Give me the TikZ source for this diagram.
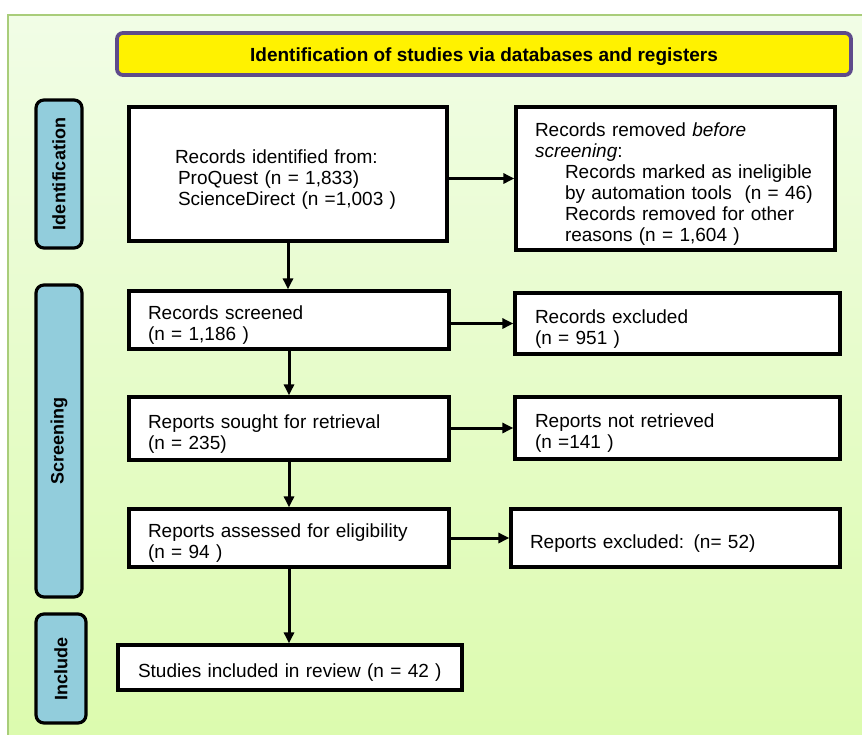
\documentclass[tikz,border=0pt]{standalone}
\usepackage{fontspec}
\setsansfont{Liberation Sans}
\usetikzlibrary{arrows.meta,positioning,calc}
\definecolor{framegreen}{HTML}{A9CD7A}
\definecolor{bgtop}{HTML}{F1FDE6}
\definecolor{bgbottom}{HTML}{DCFBAE}
\definecolor{titlepurple}{HTML}{5E4B8B}
\definecolor{phaseblue}{HTML}{92CDDC}
\begin{document}
\begin{tikzpicture}[x=1pt,y=-1pt]
\tikzset{
  flowbox/.style={rectangle,draw,line width=3.2pt,fill=white,align=left,font=\sffamily\fontsize{19}{21}\selectfont,inner ysep=2pt,execute at begin node={\rule{0pt}{24pt}}},
  phasebox/.style={rectangle,draw,line width=3.2pt,fill=phaseblue,rounded corners=8pt,rotate=90,font=\sffamily\bfseries\fontsize{18}{20}\selectfont},
  titlebox/.style={rectangle,draw=titlepurple,line width=3.8pt,fill=yellow,rounded corners=6pt,font=\sffamily\bfseries\fontsize{19}{21}\selectfont},
  flowarrow/.style={-{Triangle[length=11pt,width=10pt]},line width=3pt}
}
\useasboundingbox (0,0) rectangle (862,734);
% background
\shade[top color=bgtop,bottom color=bgbottom] (8,15) rectangle (866,738);
\draw[framegreen,line width=2pt] (8,740) -- (8,15) -- (866,15);
% title and phases
\node[titlebox,minimum width=734pt,minimum height=42pt] (n_title) at (484,54) {\rule{0pt}{20pt}Identification of studies via databases and registers};
\node[phasebox,minimum width=148pt,minimum height=46pt] (n_phaseid) at (59,174) {Identification};
\node[phasebox,minimum width=312pt,minimum height=46pt] (n_phasescr) at (59,441) {Screening};
\node[phasebox,minimum width=109pt,minimum height=50pt] (n_phaseinc) at (61,668.5) {Include};
% left column
\node[flowbox,minimum height=134pt,text width=226pt,inner xsep=46pt] (n_ident) at (288,174)
  {Records identified from:\\ \hspace*{3pt}ProQuest (n = 1,833)\\ \hspace*{3pt}ScienceDirect (n =1,003 )};
\node[flowbox,minimum height=58pt,text width=282pt,inner xsep=19pt] (n_screened) at (289,320)
  {Records screened\\ (n = 1,186 )};
\node[flowbox,minimum height=63pt,text width=282pt,inner xsep=19pt] (n_sought) at (289,428.5)
  {Reports sought for retrieval\\ (n = 235)};
\node[flowbox,minimum height=58pt,text width=282pt,inner xsep=19pt] (n_assessed) at (289,538)
  {Reports assessed for eligibility\\ (n = 94 )};
\node[flowbox,minimum height=45pt,text width=304pt,inner xsep=20pt] (n_included) at (290,667.5)
  {Studies included in review (n = 42 )};
% right column
\node[flowbox,minimum height=143pt,text width=281pt,inner xsep=19pt] (n_removed) at (675.5,178.5)
  {Records removed \textit{before}\\ \textit{screening}:\\
   \hspace*{30pt}Records marked as ineligible\\ \hspace*{30pt}by automation tools~ (n = 46)\\
   \hspace*{30pt}Records removed for other\\ \hspace*{30pt}reasons (n = 1,604 )};
\node[flowbox,minimum height=61pt,text width=285pt,inner xsep=20pt] (n_excluded) at (677.5,323.5)
  {Records excluded\\ (n = 951 )};
\node[flowbox,minimum height=62pt,text width=285pt,inner xsep=20pt] (n_notret) at (677.5,428)
  {Reports not retrieved\\ (n =141 )};
\node[flowbox,minimum height=58pt,text width=291pt,inner xsep=19pt] (n_repexcl) at (675.5,538)
  {Reports excluded: (n= 52)};
% arrows
\draw[flowarrow] (n_ident.south) -- (n_ident.south |- n_screened.north);
\draw[flowarrow] (n_screened.south) -- (n_sought.north);
\draw[flowarrow] (n_sought.south) -- (n_assessed.north);
\draw[flowarrow] (n_assessed.south) -- (n_assessed.south |- n_included.north);
\draw[flowarrow] (n_ident.east |- n_removed.west) -- (n_removed.west);
\draw[flowarrow] (n_screened.east |- n_excluded.west) -- (n_excluded.west);
\draw[flowarrow] (n_sought.east |- n_notret.west) -- (n_notret.west);
\draw[flowarrow] (n_assessed.east) -- (n_repexcl.west);
\end{tikzpicture}
\end{document}
